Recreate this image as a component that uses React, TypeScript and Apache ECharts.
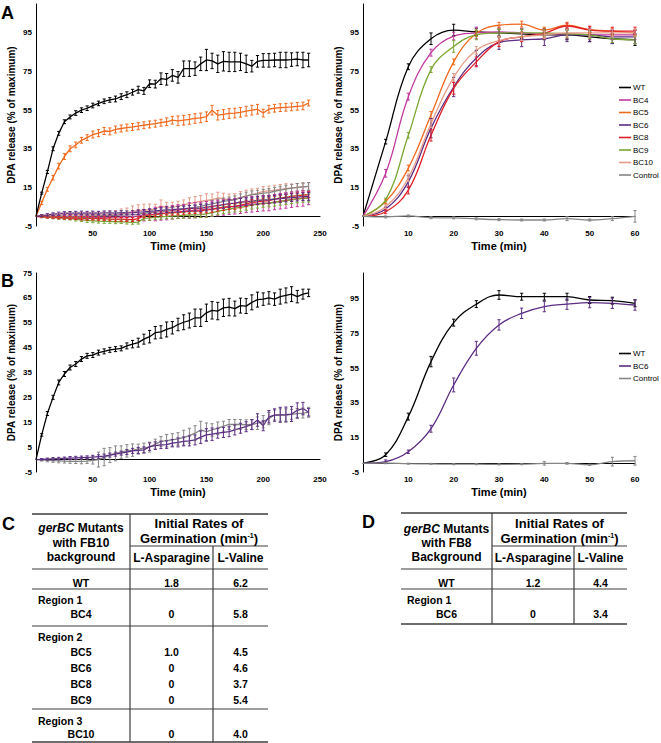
import React, { useEffect, useRef } from "react";
import * as echarts from "echarts";

// ---------- time points ----------
const timeLong = [0,5,10,15,20,25,30,35,40,45,50,55,60,65,70,75,80,85,90,95,100,105,110,115,120,125,130,135,140,145,150,155,160,165,170,175,180,185,190,195,200,205,210,215,220,225,230,235,240];
const timeShort = [0,5,10,15,20,25,30,35,40,45,50,55,60];

// ---------- Panel A (left): long time course ----------
const aLeftWT = [0,12,23,35,43,49,51.5,53.5,55,56,57.4,58.5,59.6,60.3,60.8,62,63,64.3,65.6,65,68.7,68.5,71.3,71,73,72,76.5,76.5,76.5,79,81,80.5,79,80.3,80,80,80,79,77.8,80.3,80.8,80.8,81,81,81,81.2,81.5,81,81];
const aLeftWTErr = [0,0.5,0.8,1,1,1,1,1.2,1.2,1.2,1.2,1.2,1.2,1.2,1.5,1.5,1.5,1.5,1.8,1.8,2,2,3,3,3,3,4,4,3.5,3.5,5.5,4,4.5,5,5,5,4.5,4.5,3,3,3.5,3.5,3.5,4,4,3.5,3.5,4,3.5];
const aLeftBC5 = [0,7,14,20,26,31,35,37,39.4,40.8,42.4,43.1,44.2,44,45,45.5,46,46.3,46.7,47.2,47.6,48,48.5,49,49.8,49.5,49.8,50.2,50.7,51,51.6,55,52.4,52.8,53.3,53.5,53.9,54.5,55,55.5,53.5,55.5,56,56.3,56.5,56.7,57,57.2,58.7];
const aLeftBC5Err = [0,0.8,1,1.2,1.5,1.5,1.5,1.5,1.5,1.5,1.8,1.8,1.8,1.8,1.8,1.8,1.8,1.8,1.8,1.8,1.8,1.8,1.8,2,2,2.5,2.5,2.5,2.5,2.5,2.5,2.5,2.5,2.5,2.5,2.5,2.5,2.5,2.5,2.5,2,2,2,2,2,2,2,2,1.5];
const aLeftBC4 = [0,-0.2,-0.3,-0.4,-0.5,-0.6,-0.5,-0.6,-0.7,-0.6,-0.7,-0.6,-0.5,-0.4,-0.4,-0.3,-0.3,-0.2,0.3,0.6,0.9,1.2,1.5,1.7,2.1,2.5,2.7,3,3.2,3.4,3.7,3.9,4.3,4.6,5,5.2,5.5,5.9,6.2,6.5,6.8,6.9,7.4,7.8,8.2,8.6,9,9.3,9.5];
const aLeftBC4Err = [0,0.5,0.6,0.8,0.8,1,1,1,1,1,1,1,1,1.2,1.2,1.5,1.8,2,2.5,3,3,3.5,3.5,3.5,3.5,3.5,3.5,4,4,4,4,4,4,4,4,4,4,4,4,4,4,4,4,4,4,4,4,4,3.5];
const aLeftBC6 = [0,0.4,0.8,1.1,1.4,1.6,1.7,1.7,1.8,1.7,1.8,1.7,1.8,1.8,1.7,1.9,1.8,1.9,2.2,2.3,2.6,2.8,3.1,3.4,3.5,3.7,3.9,4.1,4.2,4.3,4.6,5.2,5.6,6.1,6.6,6.9,7.3,7.6,7.9,8.2,8.5,8.6,8.9,9.2,9.5,9.7,10,10.2,10.3];
const aLeftBC6Err = [0,0.5,0.6,0.7,0.8,0.8,0.8,0.9,0.9,0.9,0.9,0.9,1,1,1,1,1,1,1.2,1.2,1.2,1.2,1.5,1.5,1.5,1.5,1.5,1.5,1.5,1.8,1.8,1.8,1.8,2,2,2,2,2,2,2,2,2,2,2,2,2,2,2,2];
const aLeftBC8 = [0,-0.1,-0.3,-0.4,-0.6,-0.7,-0.8,-0.9,-1,-1.1,-1.1,-1.2,-1.2,-1.4,-1.5,-1.5,-1.6,-1.7,-1.2,0.3,0.6,0.9,1.3,1.7,1.9,2,2.3,2.6,2.7,2.9,3.3,3.6,4.2,4.6,5,5.2,5.8,6.5,7.2,7.5,7.9,8.1,8.9,9.4,9.8,10.3,10.7,11,11.2];
const aLeftBC8Err = [0,0.3,0.5,0.5,0.6,0.6,0.7,0.7,0.8,0.8,0.8,0.8,0.9,0.9,1,1,1,1,1,1,1,1,1,1,1.2,1.2,1.2,1.2,1.2,1.2,1.5,1.5,1.5,1.5,1.5,1.5,1.5,1.5,1.5,1.5,1.5,1.5,1.5,1.5,1.5,1.5,1.5,1.5,1.5];
const aLeftBC9 = [0,-0.2,-0.4,-0.6,-0.8,-0.9,-1.1,-1.5,-1.8,-2.1,-2.3,-2.5,-2.6,-2.6,-2.8,-2.7,-3,-3.1,-3,-1,-0.8,-0.5,-0.3,0,0.2,0.3,0.5,0.7,0.8,0.9,1.3,1.9,2.6,3.2,3.8,4.3,4.6,5.2,5.8,6.3,6.7,6.9,7.3,7.8,8.2,8.6,9,9.3,9.5];
const aLeftBC9Err = [0,0.4,0.5,0.6,0.7,0.8,0.8,0.9,0.9,1,1,1,1,1,1,1,1,1,1,1,1.2,1.2,1.2,1.2,1.5,1.5,1.5,1.5,1.5,1.5,1.8,1.8,1.8,1.8,2,2,2,2,2,2,2,2,2,2,2,2,2,2,2];
const aLeftBC10 = [0,0.2,0.4,0.6,0.7,0.8,0.9,0.9,0.9,0.8,0.9,0.9,0.8,0.9,0.9,1.3,1.8,2.4,3,3.3,3.4,3.8,5.5,4.3,4.8,5.3,6,6.6,7.2,7.8,8.2,8.6,9.5,9,8.6,8.7,9.8,10.6,11.2,12,12.9,13.2,13.6,14,14.4,14.7,15,15.3,15.5];
const aLeftBC10Err = [0,0.5,0.6,0.7,0.8,0.8,0.9,1,1,1,1.2,1.2,1.5,1.8,2,2.5,2.5,3,3,3,3,2.5,3,3,2.5,2.5,2.5,3,3,3,3.5,3,3,3,3,3,3,3,3,2.5,2.5,2.5,2.5,2.5,2.5,2,2,2,2];
const aLeftCtl = [0,0,0.1,0,0.1,0,0.1,0,0.1,0.1,0.2,0.2,0.3,0.4,0.5,0.6,0.7,0.9,1.2,1.6,1.9,2.2,2.4,2.6,3,3.4,3.8,4.2,4.7,5.2,5.8,6.5,7.1,7.7,8.2,8.6,9.6,10.5,11.2,11.5,12,12.3,13,13.6,14.1,14.6,15,15.3,15.5];
const aLeftCtlErr = [0,0.4,0.5,0.6,0.6,0.7,0.7,0.8,0.8,0.8,0.9,0.9,1,1,1,1.2,1.2,1.2,1.5,1.5,1.5,1.5,1.5,1.5,1.5,1.5,1.5,1.5,1.5,1.5,1.8,1.8,1.8,1.8,1.8,2,2,2,2,2,2,2,2,2,2,2,2,2,2];

// ---------- Panel A (right): first 60 min ----------
const aRightWT = [0,38.7,77.5,92,96.5,95.5,95,94.5,94,94,93,92,91.5];
const aRightWTErr = [0,1.2,1.5,3,3,2,2,2.5,2.5,2.5,2.5,2.5,3];
const aRightBC4 = [0,22.3,62,84.8,93.4,95,95.5,95,94.5,94.5,94,94,94];
const aRightBC4Err = [0,2,1.8,1.8,2,3,2.5,2.5,2.5,2.5,2.5,2.5,2.5];
const aRightBC5 = [0,7.6,25,52.5,80,94.8,99,99.6,96.5,99,96.7,96,95];
const aRightBC5Err = [0,1,1.5,1.8,1.5,1.5,1.5,1.5,1.5,1.5,1.5,1.5,1.5];
const aRightBC6 = [0,3.8,18,45.7,67,82,90,91.4,92,94,94,93,93];
const aRightBC6Err = [0,1,3,5,5,4,3.5,3.5,3.5,3.5,3.5,3.5,3.5];
const aRightBC8 = [0,2.4,13.6,42,66.3,80,90.5,93,94.8,98.6,96.5,96,96];
const aRightBC8Err = [0,1,2,3,3,2.5,2.5,2.5,2.5,1.5,2,2,2];
const aRightBC9 = [0,8.5,42,76,88,94,95,95,95,94.5,94,92,91.4];
const aRightBC9Err = [0,1,1.5,1.5,3,2.5,2,2,2,2,2,2,2];
const aRightBC10 = [0,5,20,48,72,86,91,93,94,95,95,95,95];
const aRightBC10Err = [0,1,2,2,2,2,2,2,2,2,2,2,2];
const aRightCtl = [0,-0.3,0.2,-0.7,-0.8,-1.3,-1.7,-1.9,-1.9,-1.2,-1.9,-1.2,0];
const aRightCtlErr = [0,0.5,0.5,0.5,0.5,0.5,0.5,0.5,0.5,1,0.5,1,3];

// ---------- Panel B (left) ----------
const bLeftWT = [0,9.9,18.5,25,31,34.4,37,38.4,40.4,41.7,42,43,43.5,44.1,44.4,44.7,45.7,46.4,47,48.4,49.4,51,51.3,52.3,53,54.3,55.2,55.9,57,57,59,60,59.7,61,61.3,60.7,61.9,61.7,63.2,64.3,64.5,65,64.5,65.5,66,66.5,65.5,66.5,67];
const bLeftWTErr = [0,0.5,0.8,0.8,1,1,1,1,1,1,1,1,1,1,1,1,1.2,1.5,1.8,2,2.5,2.5,2.5,3,2.5,2.5,3,3,3.5,3.5,3.5,3.5,3.5,3.5,3.5,3,3,3,3,3,2.5,2.5,2.5,3,3,3,2.5,2,1.5];
const bLeftBC6 = [0,0.1,0.2,0.3,0.4,0.5,0.6,0.7,0.8,0.9,1,1.2,1.4,1.8,2.2,2.6,3,3.5,3.7,3.9,5.2,5.6,5.9,6,6.6,6.9,7.3,7.5,7.9,9,9.9,10.2,10.6,10.9,11.2,11.9,12.6,13.2,14.1,15.9,13.6,17.2,17.9,18,18.1,18.3,19.8,20.5,19];
const bLeftBC6Err = [0,0.3,0.4,0.5,0.5,0.5,0.6,0.6,0.6,0.6,0.7,0.7,0.8,0.8,0.8,0.8,1,1,1.2,1.2,1.5,1.5,1.5,1.5,1.5,1.8,1.8,2,2,2.5,2.5,2.5,2,2,2,2,2,2,2,2.5,2,2.5,2.5,3,3,3,3,2.5,1.5];
const bLeftCtl = [0,-0.1,-0.3,-0.4,-0.5,-0.6,-0.7,-0.7,-0.7,-0.6,-0.3,0,1,1.8,2.5,3,3.5,3.8,4.2,4.6,5,6.2,7.3,7.6,7.9,8.3,8.8,9.6,10.6,11.9,11.2,11.9,12.6,13.4,14.1,14.1,14.1,14,14,14.6,15.2,16.5,17.9,17.9,17.9,18.2,18.5,18.7,19];
const bLeftCtlErr = [0,0.5,0.6,0.7,0.8,0.8,0.8,0.9,1,1,1.5,3,3.5,3,3,2.5,2.5,2.5,2,2,2,2,2,2.5,2.5,2.5,3,3,3,3.5,3.5,2.5,2.5,2,2,2,2,2,2,2.5,2.5,2.5,2,2.5,2.5,2,2,2,2];

// ---------- Panel B (right) ----------
const bRightWT = [0,5,27,58.8,81.3,92,97.3,96.3,96.3,96.3,94.4,94,92.5];
const bRightWTErr = [0,1,2,3,2,2,2.5,2,2,2,2,2,2];
const bRightBC6 = [0,1,6.7,20,45.3,66.5,80,86.7,90.6,92,92.9,92.5,91.5];
const bRightBC6Err = [0,1,1,2,4,4,3,3,3,3,3,3,3];
const bRightCtl = [0,0.1,-0.2,-0.3,-0.5,-0.5,-0.6,-0.5,0,0,-0.8,1,1.5];
const bRightCtlErr = [0,0.3,0.3,0.3,0.3,0.3,0.3,0.3,1,0.5,0.3,2.5,2.5];

// ---------- legends ----------
const legendA = ["WT", "BC4", "BC5", "BC6", "BC8", "BC9", "BC10", "Control"];
const legendB = ["WT", "BC6", "Control"];

// ---------- tables ----------
const tableCTitle = ["{i|gerBC} Mutants", "with FB10", "background"];
const tableDTitle = ["{i|gerBC} Mutants", "with FB8", "Background"];
const rateHeader = ["Initial Rates of", "Germination (min{s|-1})"];
const colHeaders = ["L-Asparagine", "L-Valine"];
const tableCLabels = ["WT", "Region 1", "BC4", "Region 2", "BC5", "BC6", "BC8", "BC9", "Region 3", "BC10"];
const tableCAsn = ["1.8", "", "0", "", "1.0", "0", "0", "0", "", "0"];
const tableCVal = ["6.2", "", "5.8", "", "4.5", "4.6", "3.7", "5.4", "", "4.0"];
const tableDLabels = ["WT", "Region 1", "BC6"];
const tableDAsn = ["1.2", "", "0"];
const tableDVal = ["4.4", "", "3.4"];

// ---------- styles ----------
const FONT = "'Liberation Sans', Arial, Helvetica, sans-serif";
const COLORS: Record<string, string> = {
  WT: "#000000",
  BC4: "#C2399F",
  BC5: "#F06A1E",
  BC6: "#5B2C83",
  BC8: "#E21F26",
  BC9: "#7BA634",
  BC10: "#E59C8A",
  Control: "#858585",
};

function lineSeries(name: string, xs: number[], ys: number[], gi: number, smooth: boolean) {
  const color = COLORS[name];
  return {
    type: "line",
    name,
    xAxisIndex: gi,
    yAxisIndex: gi,
    data: xs.map((x, i) => [x, ys[i]]),
    symbol: "none",
    smooth: smooth ? 0.4 : false,
    lineStyle: { color, width: 1.3 },
    itemStyle: { color },
    z: 3,
    silent: true,
  };
}

function errSeries(name: string, xs: number[], ys: number[], es: number[], gi: number) {
  const color = COLORS[name];
  const data = xs
    .map((x, i) => [x, ys[i] - es[i], ys[i] + es[i]])
    .filter((_, i) => es[i] > 0);
  return {
    type: "custom",
    name: name + " error",
    xAxisIndex: gi,
    yAxisIndex: gi,
    data,
    encode: { x: 0, y: [1, 2] },
    silent: true,
    z: 4,
    renderItem: (_p: any, api: any) => {
      const x = api.value(0);
      const lo = api.coord([x, api.value(1)]);
      const hi = api.coord([x, api.value(2)]);
      const w = 1.6;
      const st = { stroke: color, lineWidth: 1 };
      return {
        type: "group",
        children: [
          { type: "line", shape: { x1: lo[0], y1: lo[1], x2: hi[0], y2: hi[1] }, style: st },
          { type: "line", shape: { x1: lo[0] - w, y1: lo[1], x2: lo[0] + w, y2: lo[1] }, style: st },
          { type: "line", shape: { x1: hi[0] - w, y1: hi[1], x2: hi[0] + w, y2: hi[1] }, style: st },
        ],
      };
    },
  };
}

function xAxis(gi: number, max: number, interval: number) {
  return {
    type: "value",
    gridIndex: gi,
    min: 0,
    max,
    interval,
    name: "Time (min)",
    nameLocation: "middle",
    nameGap: 14,
    nameTextStyle: { fontFamily: FONT, fontWeight: "bold", fontSize: 11, color: "#000" },
    axisLine: { show: true, lineStyle: { color: "#000", width: 1 } },
    axisTick: { show: false },
    splitLine: { show: false },
    axisLabel: {
      fontFamily: FONT,
      fontWeight: "bold",
      fontSize: 8,
      color: "#000",
      margin: 3,
      formatter: (v: number) => (v === 0 ? "" : String(v)),
    },
  };
}

function yAxis(gi: number, min: number, max: number, interval: number, showMax: boolean) {
  return {
    type: "value",
    gridIndex: gi,
    min,
    max,
    interval,
    name: "DPA release (% of maximum)",
    nameLocation: "middle",
    nameGap: 20,
    nameTextStyle: { fontFamily: FONT, fontWeight: "bold", fontSize: 10, color: "#000" },
    axisLine: { show: true, lineStyle: { color: "#000", width: 1 } },
    axisTick: { show: false },
    splitLine: { show: false },
    axisLabel: {
      fontFamily: FONT,
      fontWeight: "bold",
      fontSize: 8,
      color: "#000",
      margin: 4,
      showMaxLabel: showMax,
    },
  };
}

type TableLayout = {
  L: number; C1: number; C2: number; R: number;
  top: number; sub: number; hdr: number; bottom: number;
  titleY: number[]; rateY: number[]; colY: number;
  rowY: number[]; rowLines: number[];
};

function buildTable(
  lay: TableLayout,
  title: string[],
  labels: string[],
  asn: string[],
  val: string[]
) {
  const els: any[] = [];
  const stroke = "#3c3c3c";
  const hline = (y: number, x1: number, x2: number, w = 1.2) =>
    els.push({ type: "line", shape: { x1, y1: y, x2, y2: y }, style: { stroke, lineWidth: w }, silent: true });
  const vline = (x: number, y1: number, y2: number) =>
    els.push({ type: "line", shape: { x1: x, y1, x2: x, y2 }, style: { stroke, lineWidth: 1.2 }, silent: true });
  const text = (t: string, x: number, y: number, size: number, align = "center") =>
    els.push({
      type: "text",
      x,
      y,
      silent: true,
      style: {
        text: t,
        fill: "#000",
        fontFamily: FONT,
        fontWeight: "bold",
        fontSize: size,
        align,
        verticalAlign: "middle",
        rich: {
          i: { fontFamily: FONT, fontWeight: "bold", fontStyle: "italic", fontSize: size, fill: "#000" },
          s: { fontFamily: FONT, fontWeight: "bold", fontSize: 7, fill: "#000", verticalAlign: "top", padding: [0, 0, 5, 0] },
        },
      },
    });

  hline(lay.top, lay.L, lay.R, 1.5);
  hline(lay.sub, lay.C1, lay.R);
  hline(lay.hdr, lay.L, lay.R);
  lay.rowLines.forEach((y) => hline(y, lay.L, lay.R));
  hline(lay.bottom, lay.L, lay.R, 1.5);
  vline(lay.C1, lay.top, lay.bottom);
  vline(lay.C2, lay.sub, lay.bottom);

  const c0 = (lay.L + lay.C1) / 2;
  const c12 = (lay.C1 + lay.R) / 2;
  const c1 = (lay.C1 + lay.C2) / 2;
  const c2 = (lay.C2 + lay.R) / 2;
  title.forEach((t, i) => text(t, c0, lay.titleY[i], 12));
  rateHeader.forEach((t, i) => text(t, c12, lay.rateY[i], 13));
  text(colHeaders[0], c1, lay.colY, 12);
  text(colHeaders[1], c2, lay.colY, 12);
  labels.forEach((lab, i) => {
    const y = lay.rowY[i];
    if (lab.startsWith("Region")) text(lab, lay.L + 6, y, 10.5, "left");
    else text(lab, c0, y, 10.5);
    if (asn[i]) text(asn[i], c1, y, 10.5);
    if (val[i]) text(val[i], c2, y, 10.5);
  });
  return els;
}

const layoutC: TableLayout = {
  L: 32, C1: 130, C2: 213, R: 268,
  top: 514, sub: 546, hdr: 569, bottom: 742,
  titleY: [528, 542.5, 557], rateY: [523, 538], colY: 557.5,
  rowY: [583, 600, 614, 637, 652, 668, 684, 700, 721, 734],
  rowLines: [589, 626, 709],
};
const layoutD: TableLayout = {
  L: 401, C1: 492, C2: 574, R: 627,
  top: 513, sub: 546, hdr: 569, bottom: 624,
  titleY: [528.5, 543, 557], rateY: [523, 538], colY: 557.5,
  rowY: [583, 600, 614],
  rowLines: [589],
};

function panelLabel(t: string, x: number, y: number) {
  return {
    type: "text",
    x,
    y,
    silent: true,
    style: { text: t, fill: "#000", fontFamily: FONT, fontWeight: "bold", fontSize: 18, align: "left", verticalAlign: "top" },
  };
}

export default function App() {
  const ref = useRef<HTMLDivElement>(null);
  useEffect(() => {
    if (!ref.current) return;
    const chart = echarts.init(ref.current, undefined, { renderer: "svg" });

    const aLeft: [string, number[], number[]][] = [
      ["BC10", aLeftBC10, aLeftBC10Err],
      ["Control", aLeftCtl, aLeftCtlErr],
      ["BC4", aLeftBC4, aLeftBC4Err],
      ["BC9", aLeftBC9, aLeftBC9Err],
      ["BC8", aLeftBC8, aLeftBC8Err],
      ["BC6", aLeftBC6, aLeftBC6Err],
      ["BC5", aLeftBC5, aLeftBC5Err],
      ["WT", aLeftWT, aLeftWTErr],
    ];
    const aRight: [string, number[], number[]][] = [
      ["WT", aRightWT, aRightWTErr],
      ["BC4", aRightBC4, aRightBC4Err],
      ["BC5", aRightBC5, aRightBC5Err],
      ["BC6", aRightBC6, aRightBC6Err],
      ["BC8", aRightBC8, aRightBC8Err],
      ["BC9", aRightBC9, aRightBC9Err],
      ["BC10", aRightBC10, aRightBC10Err],
      ["Control", aRightCtl, aRightCtlErr],
    ];
    const bLeft: [string, number[], number[]][] = [
      ["Control", bLeftCtl, bLeftCtlErr],
      ["BC6", bLeftBC6, bLeftBC6Err],
      ["WT", bLeftWT, bLeftWTErr],
    ];
    const bRight: [string, number[], number[]][] = [
      ["WT", bRightWT, bRightWTErr],
      ["BC6", bRightBC6, bRightBC6Err],
      ["Control", bRightCtl, bRightCtlErr],
    ];

    const series: any[] = [];
    const add = (list: [string, number[], number[]][], xs: number[], gi: number, smooth: boolean) =>
      list.forEach(([n, v, e]) => {
        series.push(lineSeries(n, xs, v, gi, smooth));
        series.push(errSeries(n, xs, v, e, gi));
      });
    add(aRight, timeShort, 1, true);
    add(bRight, timeShort, 3, true);
    add(aLeft, timeLong, 0, false);
    add(bLeft, timeLong, 2, false);

    const legendBase = {
      orient: "vertical",
      left: 619,
      padding: 0,
      icon: "rect",
      itemWidth: 12,
      itemHeight: 1.6,
      itemGap: 3.5,
      selectedMode: false,
      textStyle: { fontFamily: FONT, fontSize: 8, lineHeight: 9, color: "#000", padding: [0, 0, 0, -3] },
    };

    chart.setOption({
      animation: false,
      backgroundColor: "#ffffff",
      grid: [
        { left: 36, top: 4, width: 284, height: 222 },
        { left: 363, top: 4, width: 272, height: 222 },
        { left: 36, top: 273, width: 284, height: 199 },
        { left: 363, top: 273, width: 272, height: 199 },
      ],
      xAxis: [xAxis(0, 250, 50), xAxis(1, 60, 10), xAxis(2, 250, 50), xAxis(3, 60, 10)],
      yAxis: [
        yAxis(0, -5, 110, 20, false),
        yAxis(1, -5, 110, 20, false),
        yAxis(2, -5, 75, 10, true),
        yAxis(3, -5, 110, 20, false),
      ],
      legend: [
        { ...legendBase, top: 83, data: legendA },
        { ...legendBase, top: 349, data: legendB },
      ],
      graphic: [
        panelLabel("A", 1, 4),
        panelLabel("B", 1, 272),
        panelLabel("C", 2, 515),
        panelLabel("D", 362, 513),
        ...buildTable(layoutC, tableCTitle, tableCLabels, tableCAsn, tableCVal),
        ...buildTable(layoutD, tableDTitle, tableDLabels, tableDAsn, tableDVal),
      ],
      series,
    });
    return () => chart.dispose();
  }, []);

  return (
    <div
      ref={ref}
      style={{ position: "absolute", left: 0, top: 0, width: 661, height: 743, background: "#fff" }}
    />
  );
}
